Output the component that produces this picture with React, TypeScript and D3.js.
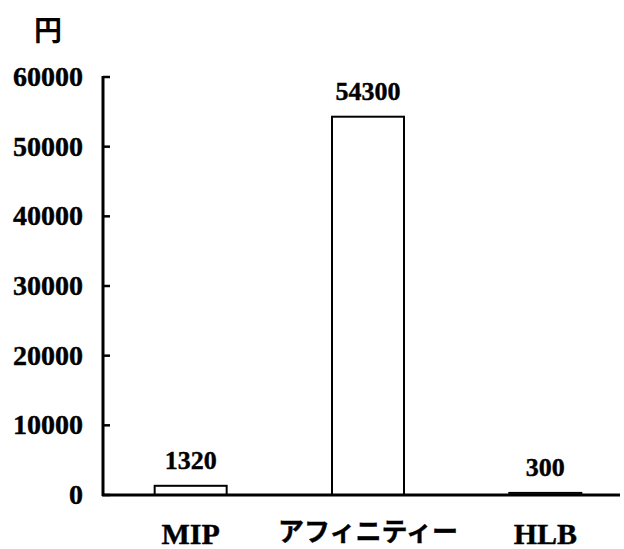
import React from "react";
import * as d3 from "d3";

const categories = ["MIP", "アフィニティー", "HLB"];
const values = [1320, 54300, 300];
const yTicks = [0, 10000, 20000, 30000, 40000, 50000, 60000];
const unitLabel = "円";

export default function App() {
  const W = 624, H = 549;
  const axisX = 103, axisEndX = 620;
  const y = d3.scaleLinear().domain([0, 60000]).range([495, 77]);
  const x = d3.scaleBand<string>().domain(categories).range([102, 634]).paddingInner(0.594).paddingOuter(0.297);
  const bw = x.bandwidth();
  const serif = "'Liberation Serif', 'Times New Roman', serif";
  const cjk = "'Noto Sans CJK JP', sans-serif";
  return (
    <svg width={W} height={H} style={{ position: "absolute", left: 0, top: 0, background: "#fff" }}>
      <text x={48} y={41} fontFamily={cjk} fontWeight={700} fontSize={28} textAnchor="middle">{unitLabel}</text>
      {yTicks.map((t) => (
        <g key={t}>
          <line x1={axisX} x2={axisX + 7} y1={y(t)} y2={y(t)} stroke="#000" strokeWidth={2.5} />
          <text x={83} y={y(t) + 9} textAnchor="end" fontFamily={serif} fontWeight={700} fontSize={28} stroke="#000" strokeWidth={0.4}>{t}</text>
        </g>
      ))}
      <line x1={axisX} x2={axisX} y1={y(60000) - 1} y2={y(0) + 1} stroke="#000" strokeWidth={3} />
      {categories.map((c, i) => {
        const cx = (x(c) as number) + bw / 2;
        return (
          <g key={c}>
            <rect x={x(c) as number} y={y(values[i])} width={bw} height={y(0) - y(values[i])} fill="#fff" stroke="#000" strokeWidth={2} />
            <text x={cx} y={y(values[i]) - 17} textAnchor="middle" fontFamily={serif} fontWeight={700} fontSize={26} stroke="#000" strokeWidth={0.4}>{values[i]}</text>
            <text x={cx} y={i === 1 ? 541 : 544} textAnchor="middle" fontFamily={i === 1 ? cjk : serif} fontWeight={700} fontSize={i === 1 ? 26 : 30} stroke="#000" strokeWidth={0.4}>{c}</text>
          </g>
        );
      })}
      <line x1={axisX - 1} x2={axisEndX} y1={y(0)} y2={y(0)} stroke="#000" strokeWidth={3} />
    </svg>
  );
}
